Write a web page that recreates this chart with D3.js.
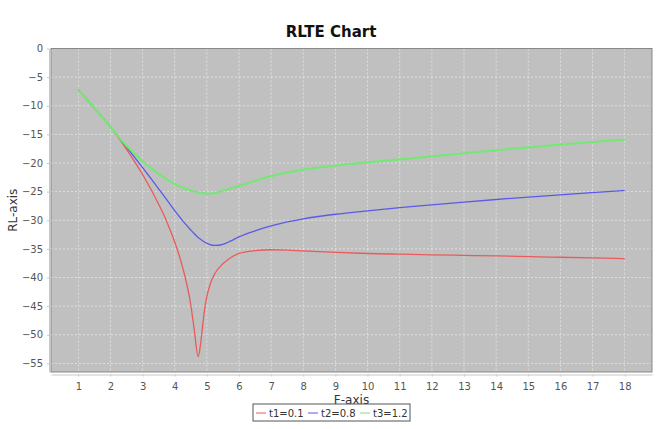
<!DOCTYPE html>
<html lang="en">
<head>
    <meta charset="UTF-8">
    <title>RLTE Chart</title>
    <script src="https://cdn.jsdelivr.net/npm/d3@7/dist/d3.min.js"></script>
    <style>
        body{margin: 0; background: #fff}
        svg text{font-family: "DejaVu Sans", sans-serif}
        svg .line{fill: none}
        svg .grid line{stroke: #fff; stroke-width: 0.6; stroke-dasharray: 2,2; opacity: 0.85}
        svg .axis path, svg .axis line{stroke: #c8c8c8}
        svg .axis text{fill: #555; font-size: 10px}
    </style>
</head>
<body>
    <svg></svg>
    <script>
        // F values (shared by all three series)
        var fValues = [1, 1.5, 2, 2.5, 3, 3.5, 3.75, 4, 4.25, 4.5, 4.6, 4.73, 4.8, 4.85, 4.9, 5, 5.1, 5.25, 5.5, 5.75,
            6, 6.5, 7, 7.5, 8, 9, 10, 11, 12, 13, 14, 15, 16, 17, 18]

        // RL values per series
        var rlT1 = [-7.2, -10.4, -13.7, -17.6, -22.0, -27.2, -30.2, -33.8, -38.3, -44.8, -48.8, -53.8, -51.8, -49.3, -46.8, -43.3, -41.2,
            -39.3, -37.6, -36.5, -35.8, -35.3, -35.15, -35.2, -35.35, -35.6, -35.8, -35.92, -36.03, -36.13, -36.23, -36.34, -36.46, -36.58, -36.7]
        var rlT2 = [-7.2, -10.4, -13.7, -17.2, -20.8, -24.5, -26.4, -28.3, -30.1, -31.7, -32.3, -33.0, -33.3, -33.5, -33.7, -34.0, -34.25,
            -34.4, -34.2, -33.6, -32.9, -31.85, -31.0, -30.3, -29.75, -28.95, -28.35, -27.8, -27.3, -26.82, -26.37, -25.95, -25.55, -25.17, -24.8]
        var rlT3 = [-7.2, -10.4, -13.7, -17.0, -19.7, -21.9, -22.85, -23.65, -24.3, -24.8, -24.97, -25.15, -25.22, -25.27, -25.3, -25.35, -25.37,
            -25.25, -24.85, -24.4, -24.0, -23.1, -22.3, -21.65, -21.15, -20.45, -19.9, -19.38, -18.84, -18.3, -17.78, -17.27, -16.78, -16.33, -15.9]

        var seriesNames = ['t1=0.1', 't2=0.8', 't3=1.2']
        var seriesColors = ['#ea5a5a', '#5a5aea', '#77e677']
        var seriesWidths = [1.3, 1.3, 2.2]

        var xTicks = d3.range(1, 19)
        var yTicks = [0, -5, -10, -15, -20, -25, -30, -35, -40, -45, -50, -55]

        var series = [rlT1, rlT2, rlT3].map((vals, i) => ({
            name: seriesNames[i],
            color: seriesColors[i],
            width: seriesWidths[i],
            points: vals.map((v, j) => [fValues[j], v])
        }))

        var width = 661, height = 429
        var plot = {left: 51, top: 48.5, right: 652, bottom: 372}

        var svg = d3.select('svg')
            .attr('width', width)
            .attr('height', height)

        var xScale = d3.scaleLinear().domain([0.15, 18.85]).range([plot.left, plot.right])
        var yScale = d3.scaleLinear().domain([-56.5, 0]).range([plot.bottom, plot.top])

        // title
        svg.append('text')
            .attr('x', 331)
            .attr('y', 37)
            .attr('text-anchor', 'middle')
            .style('font-size', '15px')
            .style('font-weight', 'bold')
            .style('fill', '#111')
            .text('RLTE Chart')

        // plot background
        svg.append('rect')
            .attr('x', plot.left)
            .attr('y', plot.top)
            .attr('width', plot.right - plot.left)
            .attr('height', plot.bottom - plot.top)
            .attr('fill', '#c0c0c0')

        // grid
        var grid = svg.append('g').attr('class', 'grid')
        grid.selectAll('.gx')
            .data(xTicks)
            .enter()
            .append('line')
            .attr('x1', d => xScale(d)).attr('x2', d => xScale(d))
            .attr('y1', plot.top).attr('y2', plot.bottom)
        grid.selectAll('.gy')
            .data(yTicks)
            .enter()
            .append('line')
            .attr('x1', plot.left).attr('x2', plot.right)
            .attr('y1', d => yScale(d)).attr('y2', d => yScale(d))

        // plot border
        svg.append('rect')
            .attr('x', plot.left)
            .attr('y', plot.top)
            .attr('width', plot.right - plot.left)
            .attr('height', plot.bottom - plot.top)
            .attr('fill', 'none')
            .attr('stroke', '#888')
            .attr('stroke-width', 1)

        // axes
        var xAxis = d3.axisBottom(xScale)
            .tickValues(xTicks)
            .tickSize(2)
            .tickPadding(6)
            .tickSizeOuter(0)
        var yAxis = d3.axisLeft(yScale)
            .tickValues(yTicks)
            .tickSize(2)
            .tickPadding(4)
            .tickSizeOuter(0)

        svg.append('g')
            .attr('class', 'axis')
            .attr('transform', `translate(0, ${plot.bottom + 2.5})`)
            .call(xAxis)
        svg.append('g')
            .attr('class', 'axis')
            .attr('transform', `translate(${plot.left - 2}, 0)`)
            .call(yAxis)

        // axis labels
        svg.append('text')
            .attr('x', (plot.left + plot.right) / 2)
            .attr('y', 404)
            .attr('text-anchor', 'middle')
            .style('font-size', '12px')
            .style('fill', '#333')
            .text('F-axis')
        svg.append('text')
            .attr('transform', `translate(17, ${(plot.top + plot.bottom) / 2}) rotate(-90)`)
            .attr('text-anchor', 'middle')
            .style('font-size', '12px')
            .style('fill', '#333')
            .text('RL-axis')

        // lines
        var line = d3.line()
            .x(d => xScale(d[0]))
            .y(d => yScale(d[1]))
            .curve(d3.curveMonotoneX)

        svg.append('g')
            .selectAll('path')
            .data(series)
            .enter()
            .append('path')
            .attr('class', 'line')
            .attr('stroke', d => d.color)
            .attr('stroke-width', d => d.width)
            .attr('d', d => line(d.points))

        // legend
        var legend = svg.append('g').attr('transform', 'translate(253, 404)')
        legend.append('rect')
            .attr('width', 157)
            .attr('height', 17)
            .attr('fill', '#fff')
            .attr('stroke', '#555')
            .attr('stroke-width', 1)
        var item = legend.selectAll('.item')
            .data(series)
            .enter()
            .append('g')
            .attr('transform', (d, i) => `translate(${3 + i * 52}, 0)`)
        item.append('line')
            .attr('x1', 0).attr('x2', 10)
            .attr('y1', 9).attr('y2', 9)
            .attr('stroke', d => d.color)
            .attr('stroke-width', 1)
        item.append('text')
            .attr('x', 13)
            .attr('y', 13)
            .style('font-size', '10px')
            .style('fill', '#333')
            .text(d => d.name)
    </script>
</body>
</html>
